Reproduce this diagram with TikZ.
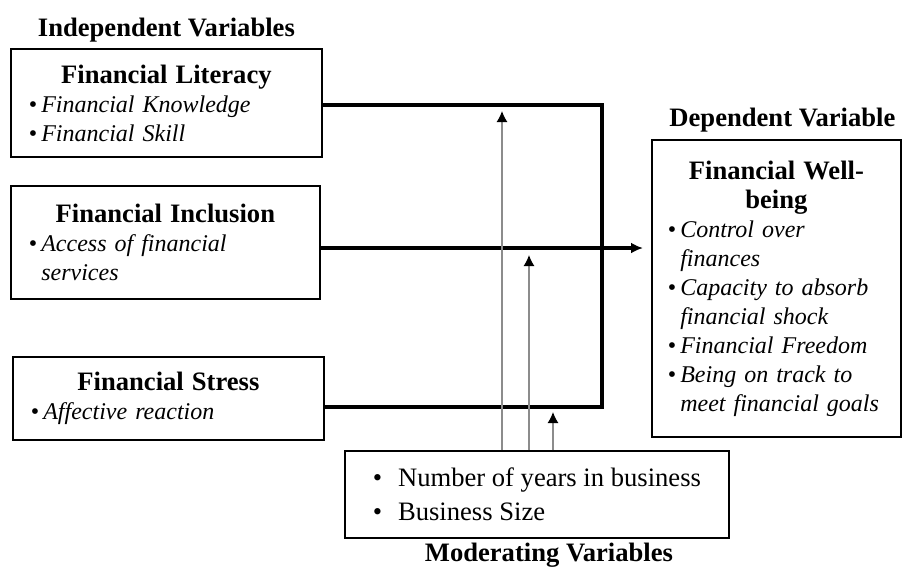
\documentclass[tikz,border=0pt]{standalone}
\usepackage{fontspec}
\setmainfont{Liberation Serif}
\usetikzlibrary{arrows.meta}
\usetikzlibrary{positioning}
\usetikzlibrary{calc}

\newcommand{\itm}[1]{\textbullet\,\textit{#1}}
\newcommand{\cnt}[1]{\phantom{\textbullet\,}\textit{#1}}
\newcommand{\boxtitle}[1]{{\fontsize{13.3}{14.5}\selectfont\bfseries #1}}

\begin{document}
\begin{tikzpicture}
	[
	x = 0.5pt, y = -0.5pt,
	> = {Latex[length=6pt,width=5.5pt]},
	var/.style = {draw, line width=0.9pt, anchor=north west, inner xsep=9pt, font=\fontsize{12}{14.5}\selectfont},
	head/.style = {font=\fontsize{13.3}{16}\selectfont\bfseries, inner sep=1pt},
	main/.style = {line width=1.6pt},
	moder/.style = {draw=gray!90, line width=0.7pt, -{Latex[length=5.5pt,width=5.5pt,color=black]}}
	]

	\useasboundingbox (0,0) rectangle (902,569);

	% independent variables
	\node[var, text width=137.5pt, minimum height=54pt] (lit) at (10,48)
		{\centering\boxtitle{Financial Literacy}\par\raggedright
		 \itm{Financial Knowledge}\\ \itm{Financial Skill}};
	\node[var, text width=136.5pt, minimum height=56.5pt] (incl) at (10,185)
		{\centering\boxtitle{Financial Inclusion}\par\raggedright
		 \itm{Access of financial}\\ \cnt{services}};
	\node[var, text width=137.5pt, minimum height=41.5pt] (stress) at (12,356)
		{\centering\boxtitle{Financial Stress}\par\raggedright
		 \itm{Affective reaction}};
	\node[head, above=1.5pt of lit] (indep) {Independent Variables};

	% dependent variable
	\node[var, inner xsep=8pt, text width=108.5pt, minimum height=148.5pt] (dv) at (651,139)
		{\centering\boxtitle{Financial Well-\\being}\par\raggedright
		 \itm{Control over}\\ \cnt{finances}\\
		 \itm{Capacity to absorb}\\ \cnt{financial shock}\\
		 \itm{Financial Freedom}\\
		 \itm{Being on track to}\\ \cnt{meet financial goals}};
	\node[head, above=2pt of dv, xshift=3pt] (dep) {Dependent Variable};

	% moderating variables
	\node[var, align=left, font=\fontsize{13.3}{17}\selectfont, minimum width=192pt, minimum height=43.5pt] (mod) at (344,450)
		{\textbullet\hspace{8pt}Number of years in business\\
		 \textbullet\hspace{8pt}Business Size};
	\node[head, below=1pt of mod, xshift=6pt] (modt) {Moderating Variables};

	% connectors
	\coordinate (jt) at (602,105);
	\coordinate (jb) at (602,407);
	\coordinate (ia) at (0,248);

	\draw[main] (lit.east |- jt) -- (jt) -- (jb) -- (jb -| stress.east);
	\draw[main, ->, shorten >=4pt] (incl.east |- ia) -- (dv.west |- ia);

	\foreach \x/\y in {502/111, 529/255, 553/412}
		\draw[moder] (mod.north -| \x,0) -- (\x,\y);

\end{tikzpicture}
\end{document}
